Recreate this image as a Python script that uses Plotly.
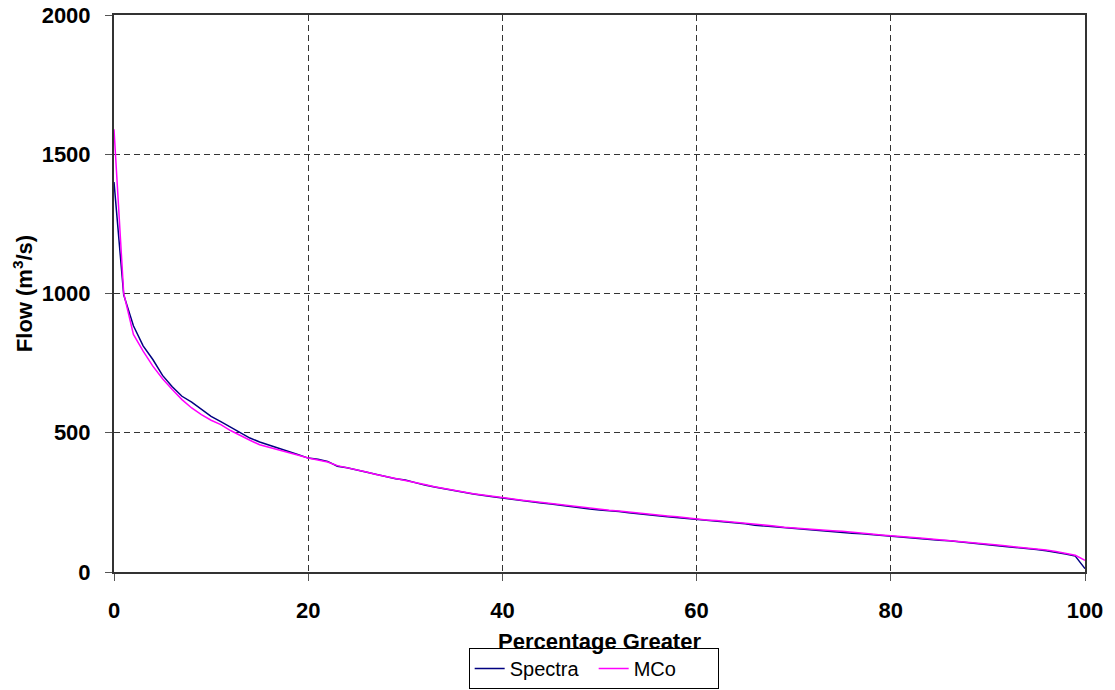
import plotly.graph_objects as go

pct = list(range(0, 101))

spectra = [1400, 995, 884, 812, 763, 706, 665, 631, 610, 583,
           559, 540, 520, 502, 481, 467, 456, 445, 433, 421,
           409, 405, 397, 380, 374, 366, 358, 350, 342, 335,
           330, 320, 312, 305, 298, 292, 286, 280, 274, 270,
           266, 261, 257, 253, 248, 244, 239, 234, 230, 226,
           223, 221, 217, 213, 210, 206, 202, 198, 195, 191,
           187, 185, 183, 180, 177, 173, 168, 165, 162, 158,
           155, 153, 149, 146, 144, 142, 139, 137, 134, 131,
           128, 124, 121, 118, 116, 114, 112, 108, 104, 101,
           98, 94, 91, 88, 85, 81, 76, 71, 65, 57,
           12]

mco = [1590, 1000, 853, 793, 739, 694, 655, 619, 589, 565,
       545, 529, 508, 490, 473, 457, 448, 439, 430, 419,
       409, 403, 395, 382, 375, 367, 359, 350, 343, 337,
       330, 322, 314, 306, 299, 293, 287, 281, 276, 271,
       267, 262, 258, 254, 250, 245, 241, 236, 232, 228,
       225, 222, 219, 215, 212, 208, 204, 201, 198, 194,
       190, 187, 185, 182, 179, 175, 171, 168, 165, 161,
       158, 156, 153, 150, 148, 146, 142, 139, 136, 133,
       131, 128, 125, 122, 119, 116, 114, 111, 107, 104,
       101, 97, 93, 90, 87, 83, 79, 74, 68, 60,
       42]

x_ticks = [0, 20, 40, 60, 80, 100]
y_ticks = [0, 500, 1000, 1500, 2000]

FONT = "Liberation Sans, Arial, sans-serif"

fig = go.Figure()
fig.add_trace(go.Scatter(x=pct, y=spectra, mode="lines", name="Spectra",
                         line=dict(color="#000080", width=1.5)))
fig.add_trace(go.Scatter(x=pct, y=mco, mode="lines", name="MCo",
                         line=dict(color="#FF00FF", width=1.5)))

axis_common = dict(
    showline=True, linecolor="#333333", linewidth=2, mirror=True,
    showgrid=True, gridcolor="#333333", gridwidth=1, griddash="6px,4px",
    ticks="outside", ticklen=7, tickcolor="#555555", tickwidth=1,
    zeroline=False, automargin=False,
    tickfont=dict(family=FONT, size=22, color="black", weight="bold"),
)

fig.update_layout(
    width=1115, height=690,
    margin=dict(l=114, r=30, t=15, b=118, autoexpand=False),
    paper_bgcolor="white", plot_bgcolor="white",
    font=dict(family=FONT, color="black"),
    xaxis=dict(range=[0, 100], tickvals=x_ticks, ticklabelstandoff=11, **axis_common,
               title=dict(text="Percentage Greater", standoff=11,
                          font=dict(family=FONT, size=22, color="black", weight="bold"))),
    yaxis=dict(range=[0, 2000], tickvals=y_ticks, ticklabelstandoff=10, **axis_common,
               title=dict(text="Flow (m<sup>3</sup>/s)", standoff=3,
                          font=dict(family=FONT, size=22, color="black", weight="bold"))),
    showlegend=True,
    legend=dict(orientation="h", x=0.494, xanchor="center", y=-0.2101, yanchor="bottom",
                bordercolor="black", borderwidth=1, bgcolor="white",
                font=dict(family=FONT, size=20, color="black"),
                entrywidth=79, tracegroupgap=0),
)

POST = ("var gd=document.getElementById('{plot_id}');"
        "gd.style.position='fixed';gd.style.left='0px';gd.style.top='0px';"
        "document.body.style.margin='0';document.body.style.overflow='hidden';"
        "document.documentElement.style.overflow='hidden';")

fig.write_html("out.html", config=dict(displayModeBar=False), post_script=POST)
